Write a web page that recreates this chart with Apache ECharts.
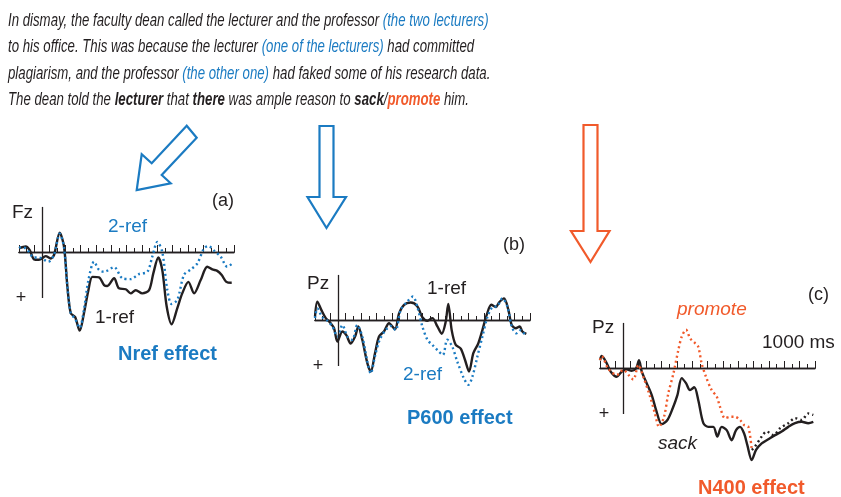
<!DOCTYPE html>
<html>
<head>
<meta charset="utf-8">
<script src="https://cdn.jsdelivr.net/npm/echarts@6/dist/echarts.min.js"></script>
<style>
  html, body { margin: 0; padding: 0; background: #fff; }
  #chart { width: 841px; height: 497px; }
</style>
</head>
<body>
<div id="chart"></div>
<script>
// ERP waveforms, time in ms, amplitude in microvolts (positive drawn downward)
var tA1 = [-150,-106,-80,-52,-20,24,56,78,115,143,165,187,215,245,273,302,328,371,404,425,469,501,545,577,610,653,697,725,757,783,812,844,881,913,953,990,1033,1076,1109,1141,1170,1200,1235];
var vA1 = [-0.8,-1.2,-0.4,1.6,1.7,0.9,1.4,0.65,-4.2,-1.2,7.5,13.3,14.1,17.1,13.3,8.3,5.4,5.5,7.2,7.4,5.7,7.9,8.1,9.0,8.3,9.0,8.3,4.6,1.2,3.9,11.9,15.7,12.2,9.0,6.5,9.0,6.1,3.2,3.8,4.1,5.0,6.5,6.7];
var tA2 = [-150,-106,-52,-20,41,78,115,143,165,187,215,245,273,302,339,371,404,469,523,577,631,686,718,751,783,816,844,881,924,968,1011,1055,1083,1120,1163,1206,1239];
var vA2 = [-1.0,-0.8,1.2,1.2,2.1,0.6,-4.0,-1.0,7.5,13.3,14.5,16.5,12.5,6.1,2.1,3.9,4.3,3.3,5.7,5.9,4.8,4.3,1.0,-2.2,0,8.3,11.3,10.4,5.0,3.8,2.5,-0.8,-1.3,-0.3,1.0,3.2,2.5];

var tB1 = [-150,-135,-109,-80,-48,-26,-4,28,54,82,111,132,158,191,213,241,267,299,332,371,397,430,473,516,549,582,614,647,675,701,718,740,766,799,827,853,881,913,940,968,998,1027,1048,1081,1109,1131,1157,1183,1200,1226];
var vB1 = [-0.7,-4.0,-2.2,-0.4,0.7,1.8,4.7,2.5,3.3,5.1,3.6,1.4,4.3,9.4,11.2,7.2,3.6,2.5,0.7,2.0,-1.4,-3.3,-3.8,-3.0,-0.6,0.15,-0.4,1.4,3.0,0.4,-3.5,2.2,5.4,6.2,8.7,11.2,7.2,5.1,2.2,-1.1,-3.3,-2.8,-3.8,-4.7,-2.2,1.1,1.8,1.4,2.5,3.0];
var tB2 = [-150,-135,-102,-70,-37,-4,28,61,93,125,158,191,213,241,271,310,343,375,408,451,488,516,549,582,614,657,683,711,744,777,820,849,875,907,940,972,1005,1037,1070,1103,1131,1161,1190,1218];
var vB2 = [-0.4,-2.5,-0.6,0.15,1.4,3.6,1.1,3.6,4.3,1.1,3.6,9.1,11.6,7.8,4.3,2.2,1.3,2.2,-2.2,-4.0,-5.1,-2.9,1.4,4.3,5.4,6.9,7.6,4.3,5.8,9.1,12.7,14.1,12.3,8.0,3.6,-0.6,-2.8,-3.0,-4.7,-2.9,1.4,2.9,2.2,3.3];

var tC1 = [-150,-139,-106,-80,-41,-9,24,56,85,104,122,154,187,215,252,289,323,354,382,410,436,464,490,523,555,588,614,642,675,707,736,762,788,809,838,866,903,946,990,1033,1076,1120,1163,1206,1239];
var vC1 = [-1.7,-2.6,-1.0,0.8,1.9,0.8,0.3,0.6,0.07,-1.7,0.8,3.3,5.9,9.1,12.2,11.3,8.8,5.9,2.2,3.3,4.8,4.2,7.0,12.0,12.8,12.8,14.9,12.8,13.5,15.7,13.5,12.8,14.2,16.7,20.0,17.8,16.4,15.5,14.6,13.8,12.8,12.0,11.7,12.0,11.7];
var tC2 = [-150,-139,-96,-41,2,35,67,100,132,176,208,234,267,295,328,360,382,410,436,469,490,512,540,577,610,631,664,697,729,762,788,816,838,859,903,935,979,1022,1076,1120,1163,1206,1239];
var vC2 = [-1.7,-2.6,0.15,1.5,0.4,1.5,2.5,-0.65,1.9,6.2,9.9,12.8,10.6,5.5,1.2,-3.9,-6.8,-8.3,-6.5,-5.4,-4.6,-1.0,1.9,4.8,6.2,8.4,10.9,10.6,10.6,11.3,12.4,12.8,17.8,17.1,14.9,13.8,14.6,13.1,12.0,10.9,11.3,9.9,10.2];
// after the N400 window the promote trace is printed in black
var promoteSplit = 838;

var BLUE = '#1b7bc2';
var ORANGE = '#f15a2b';
var INK = '#231f20';
var FONT = 'Liberation Sans';

function pairs(t, v) {
  return t.map(function (x, i) { return [x, v[i]]; });
}

var chart = echarts.init(document.getElementById('chart'), null, { renderer: 'canvas' });

var gridTops = [206, 274, 322];
var gridLefts = [19, 315, 600];

var grids = [], xAxes = [], yAxes = [];
for (var i = 0; i < 3; i++) {
  grids.push({ left: gridLefts[i], top: gridTops[i], width: 215, height: 147.2 });
  // short ticks every 50 ms
  xAxes.push({
    gridIndex: i, type: 'value', min: -150, max: 1250, interval: 50, position: 'bottom',
    axisLine: { onZero: true, onZeroAxisIndex: i, lineStyle: { color: INK, width: 1.3 } },
    axisTick: { inside: true, length: 4, lineStyle: { color: INK, width: 1 } },
    axisLabel: { show: false }, splitLine: { show: false }
  });
  // long ticks every 100 ms
  xAxes.push({
    gridIndex: i, type: 'value', min: -150, max: 1250, interval: 100, position: 'bottom',
    axisLine: { show: true, onZero: true, onZeroAxisIndex: i, lineStyle: { color: INK, width: 1.3 } },
    axisTick: { inside: true, length: 7, lineStyle: { color: INK, width: 1 } },
    axisLabel: { show: false }, splitLine: { show: false }
  });
  yAxes.push({ gridIndex: i, type: 'value', min: -10, max: 22, inverse: true, show: false });
}

// vertical (amplitude) axis drawn at stimulus onset
function onsetLine() {
  return {
    silent: true, symbol: ['none', 'none'], animation: false,
    label: { show: false },
    lineStyle: { color: INK, width: 1.3, type: 'solid' },
    data: [[{ coord: [0, -9.8] }, { coord: [0, 10] }]]
  };
}

function solid(idx, data) {
  return {
    type: 'line', xAxisIndex: idx * 2, yAxisIndex: idx, data: data,
    showSymbol: false, smooth: 0.3, z: 3,
    lineStyle: { color: INK, width: 2.4 },
    markLine: onsetLine()
  };
}
function dotted(idx, data, color) {
  return {
    type: 'line', xAxisIndex: idx * 2, yAxisIndex: idx, data: data,
    showSymbol: false, smooth: 0.3, z: 4,
    lineStyle: { color: color, width: 2.4, type: [2, 3] }
  };
}

function label(text, x, y, opts) {
  opts = opts || {};
  return {
    type: 'text', x: x, y: y, silent: true,
    style: {
      text: text, fill: opts.color || INK,
      fontSize: opts.size || 19, fontFamily: FONT,
      fontWeight: opts.bold ? 'bold' : 'normal',
      fontStyle: opts.italic ? 'italic' : 'normal',
      textAlign: opts.align || 'left', textVerticalAlign: 'middle'
    }
  };
}

var PF = 18.5;
var para = {
  n: { fill: INK, fontSize: PF, fontStyle: 'italic', fontFamily: FONT },
  c: { fill: BLUE, fontSize: PF, fontStyle: 'italic', fontFamily: FONT },
  b: { fill: INK, fontSize: PF, fontStyle: 'italic', fontWeight: 'bold', fontFamily: FONT },
  o: { fill: ORANGE, fontSize: PF, fontStyle: 'italic', fontWeight: 'bold', fontFamily: FONT }
};
var paraLines = [
  '{n|In dismay, the faculty dean called the lecturer and the professor }{c|(the two lecturers)}',
  '{n|to his office. This was because the lecturer }{c|(one of the lecturers)}{n| had committed}',
  '{n|plagiarism, and the professor }{c|(the other one)}{n| had faked some of his research data.}',
  '{n|The dean told the }{b|lecturer}{n| that }{b|there}{n| was ample reason to }{b|sack}{n|/}{o|promote}{n| him.}'
];
var paraY = [21, 47, 74, 100];

var graphics = paraLines.map(function (s, i) {
  return {
    type: 'text', x: 8, y: paraY[i], scaleX: 0.715, silent: true,
    style: { text: s, rich: para, fontSize: PF, fontFamily: FONT, textVerticalAlign: 'middle' }
  };
});

// hollow arrows
graphics.push({
  type: 'polygon', silent: true,
  shape: { points: [[186.7,125.7],[151.7,163.3],[141.7,154.3],[136.7,190],[170.7,183.3],[161.7,175],[196.7,137.7]] },
  style: { fill: 'none', stroke: BLUE, lineWidth: 2.2, lineJoin: 'miter' }
});
graphics.push({
  type: 'polygon', silent: true,
  shape: { points: [[319.5,126],[333.5,126],[333.5,197],[346,197],[326.5,228],[307.5,197],[319.5,197]] },
  style: { fill: 'none', stroke: BLUE, lineWidth: 2.2, lineJoin: 'miter' }
});
graphics.push({
  type: 'polygon', silent: true,
  shape: { points: [[583.5,125],[597.5,125],[597.5,231],[609.5,231],[590.5,262],[571,231],[583.5,231]] },
  style: { fill: 'none', stroke: ORANGE, lineWidth: 2.2, lineJoin: 'miter' }
});

// panel labels
graphics.push(
  label('(a)', 212, 201, { size: 18 }),
  label('Fz', 12, 213),
  label('+', 21, 298, { size: 18, align: 'center' }),
  label('2-ref', 108, 227, { color: BLUE }),
  label('1-ref', 95, 318),
  label('Nref effect', 118, 354, { color: BLUE, bold: true, size: 20 }),

  label('(b)', 503, 245, { size: 18 }),
  label('Pz', 307, 284),
  label('1-ref', 427, 289),
  label('+', 318, 366, { size: 18, align: 'center' }),
  label('2-ref', 403, 375, { color: BLUE }),
  label('P600 effect', 407, 418, { color: BLUE, bold: true, size: 20 }),

  label('(c)', 808, 295, { size: 18 }),
  label('promote', 677, 310, { color: ORANGE, italic: true }),
  label('Pz', 592, 328),
  label('1000 ms', 762, 343),
  label('+', 604, 414, { size: 18, align: 'center' }),
  label('sack', 658, 444, { italic: true }),
  label('N400 effect', 698, 488, { color: ORANGE, bold: true, size: 20 })
);

var promoteAll = pairs(tC2, vC2);
var promoteEarly = promoteAll.filter(function (p) { return p[0] <= promoteSplit; });
var promoteLate = promoteAll.filter(function (p) { return p[0] >= promoteSplit; });

var option = {
  animation: false,
  backgroundColor: '#ffffff',
  grid: grids,
  xAxis: xAxes,
  yAxis: yAxes,
  series: [
    solid(0, pairs(tA1, vA1)),
    dotted(0, pairs(tA2, vA2), BLUE),
    solid(1, pairs(tB1, vB1)),
    dotted(1, pairs(tB2, vB2), BLUE),
    solid(2, pairs(tC1, vC1)),
    dotted(2, promoteEarly, ORANGE),
    dotted(2, promoteLate, INK)
  ],
  graphic: graphics
};

chart.setOption(option);
</script>
</body>
</html>
